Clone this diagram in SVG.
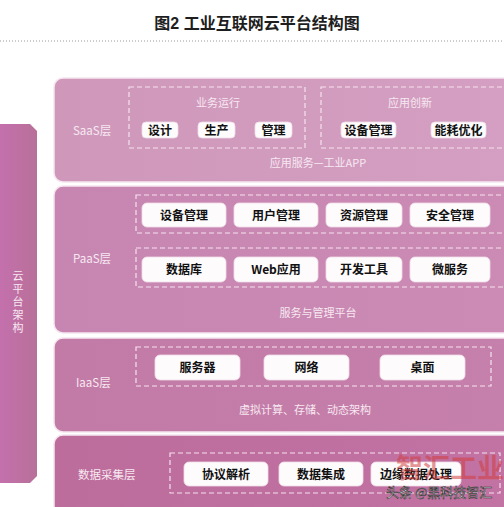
<svg xmlns="http://www.w3.org/2000/svg" width="504" height="507" viewBox="0 0 504 507">
<defs>
<linearGradient id="bar" x1="0" y1="0" x2="1" y2="0"><stop offset="0" stop-color="#c470ad"/><stop offset="1" stop-color="#b87098"/></linearGradient>
<linearGradient id="gSaaS" x1="0" y1="0" x2="1" y2="0"><stop offset="0" stop-color="#cf98bb"/><stop offset="1" stop-color="#d49fc2"/></linearGradient>
<linearGradient id="gPaaS" x1="0" y1="0" x2="1" y2="0"><stop offset="0" stop-color="#c786b1"/><stop offset="1" stop-color="#cb8bb5"/></linearGradient>
<linearGradient id="gIaaS" x1="0" y1="0" x2="1" y2="0"><stop offset="0" stop-color="#c27aa6"/><stop offset="1" stop-color="#c680ac"/></linearGradient>
<linearGradient id="gData" x1="0" y1="0" x2="1" y2="0"><stop offset="0" stop-color="#bd6d9c"/><stop offset="1" stop-color="#c272a3"/></linearGradient>
</defs>
<style>
.title{font-family:"Liberation Sans","Noto Sans CJK SC",sans-serif;font-size:16px;font-weight:bold;fill:#1e1e1e}
.panel{stroke:#f6e6f0;stroke-width:1.5}
.lbl{font-family:"Noto Sans CJK SC",sans-serif;font-size:11.5px;fill:#f7e8f1}
.sub{font-family:"Noto Sans CJK SC",sans-serif;font-size:11px;fill:#f7e8f1;text-anchor:middle}
.dash{fill:none;stroke:#f6e2ee;stroke-width:1.2;stroke-dasharray:5 3}
.chip{fill:#fdfbfc;stroke:#f0dde8;stroke-width:0.8}
.ct{font-family:"Noto Sans CJK SC",sans-serif;font-size:12px;font-weight:bold;fill:#111;text-anchor:middle}
.vt{font-family:"Noto Sans CJK SC",sans-serif;font-size:11px;fill:#f7e8f1;writing-mode:vertical-rl;letter-spacing:2px}
</style>
<rect width="504" height="507" fill="#ffffff"/>
<text class="title" x="257" y="29" text-anchor="middle">图2 工业互联网云平台结构图</text>
<line x1="0" y1="41" x2="504" y2="41" stroke="#9a9a9a" stroke-width="1" stroke-dasharray="1 2"/>

<g id="cloud-arch">
<polygon points="0,124 30,124 37,131 37,476 30,483 0,483" fill="url(#bar)"/>
<text class="vt" x="18" y="270">云平台架构</text>
</g>

<g id="saas">
<rect class="panel" x="54" y="78" width="470" height="104" rx="9" fill="url(#gSaaS)"/>
<text class="lbl" x="73" y="135">SaaS层</text>
<rect class="dash" x="129" y="87" width="176" height="61"/>
<text class="sub" x="218" y="107">业务运行</text>
<rect class="chip" x="142" y="122" width="36" height="16" rx="4"/>
<text class="ct" x="160" y="134.5">设计</text>
<rect class="chip" x="198" y="122" width="37" height="16" rx="4"/>
<text class="ct" x="216.5" y="134.5">生产</text>
<rect class="chip" x="255" y="122" width="37" height="16" rx="4"/>
<text class="ct" x="273.5" y="134.5">管理</text>
<rect class="dash" x="321" y="87" width="200" height="61"/>
<text class="sub" x="410" y="107">应用创新</text>
<rect class="chip" x="341" y="122" width="55" height="16" rx="4"/>
<text class="ct" x="368.5" y="134.5">设备管理</text>
<rect class="chip" x="431" y="122" width="55" height="16" rx="4"/>
<text class="ct" x="458.5" y="134.5">能耗优化</text>
<text class="sub" x="318" y="167">应用服务—工业APP</text>
</g>

<g id="paas">
<rect class="panel" x="54" y="186" width="470" height="147" rx="9" fill="url(#gPaaS)"/>
<text class="lbl" x="73" y="263">PaaS层</text>
<rect class="dash" x="136" y="195" width="380" height="38"/>
<rect class="chip" x="142" y="203" width="84" height="24" rx="5"/>
<text class="ct" x="184" y="219.5">设备管理</text>
<rect class="chip" x="234" y="203" width="84" height="24" rx="5"/>
<text class="ct" x="276" y="219.5">用户管理</text>
<rect class="chip" x="326" y="203" width="76" height="24" rx="5"/>
<text class="ct" x="364" y="219.5">资源管理</text>
<rect class="chip" x="410" y="203" width="80" height="24" rx="5"/>
<text class="ct" x="450" y="219.5">安全管理</text>
<rect class="dash" x="136" y="248" width="380" height="39"/>
<rect class="chip" x="142" y="257" width="84" height="25" rx="5"/>
<text class="ct" x="184" y="274">数据库</text>
<rect class="chip" x="234" y="257" width="84" height="25" rx="5"/>
<text class="ct" x="276" y="274">Web应用</text>
<rect class="chip" x="326" y="257" width="76" height="25" rx="5"/>
<text class="ct" x="364" y="274">开发工具</text>
<rect class="chip" x="410" y="257" width="80" height="25" rx="5"/>
<text class="ct" x="450" y="274">微服务</text>
<text class="sub" x="318" y="317">服务与管理平台</text>
</g>

<g id="iaas">
<rect class="panel" x="54" y="338" width="470" height="94" rx="9" fill="url(#gIaaS)"/>
<text class="lbl" x="76" y="387">IaaS层</text>
<rect class="dash" x="136" y="347" width="355" height="39"/>
<rect class="chip" x="155" y="355" width="85" height="25" rx="5"/>
<text class="ct" x="197.5" y="372">服务器</text>
<rect class="chip" x="264" y="355" width="85" height="25" rx="5"/>
<text class="ct" x="306.5" y="372">网络</text>
<rect class="chip" x="380" y="355" width="85" height="25" rx="5"/>
<text class="ct" x="422.5" y="372">桌面</text>
<text class="sub" x="305" y="414">虚拟计算、存储、动态架构</text>
</g>

<g id="data">
<rect class="panel" x="54" y="435" width="470" height="90" rx="9" fill="url(#gData)"/>
<text class="lbl" x="78" y="479">数据采集层</text>
<rect class="dash" x="170" y="453" width="330" height="40"/>
<rect class="chip" x="184" y="462" width="84" height="24" rx="5"/>
<text class="ct" x="226" y="478.5">协议解析</text>
<rect class="chip" x="279" y="462" width="84" height="24" rx="5"/>
<text class="ct" x="321" y="478.5">数据集成</text>
<rect class="chip" x="371" y="462" width="90" height="24" rx="5"/>
<text class="ct" x="416" y="478.5">边缘数据处理</text>
</g>

<g id="watermark">
<text x="396" y="478" font-family="Noto Sans CJK SC,sans-serif" font-size="27" font-weight="bold" fill="#d23c3c" fill-opacity="0.55">智汇工业</text>
<text x="386" y="497" font-family="Noto Sans CJK SC,sans-serif" font-size="13" fill="#ffffff" stroke="#333" stroke-width="0.6">头条 @黑科技智汇</text>
</g>
</svg>
